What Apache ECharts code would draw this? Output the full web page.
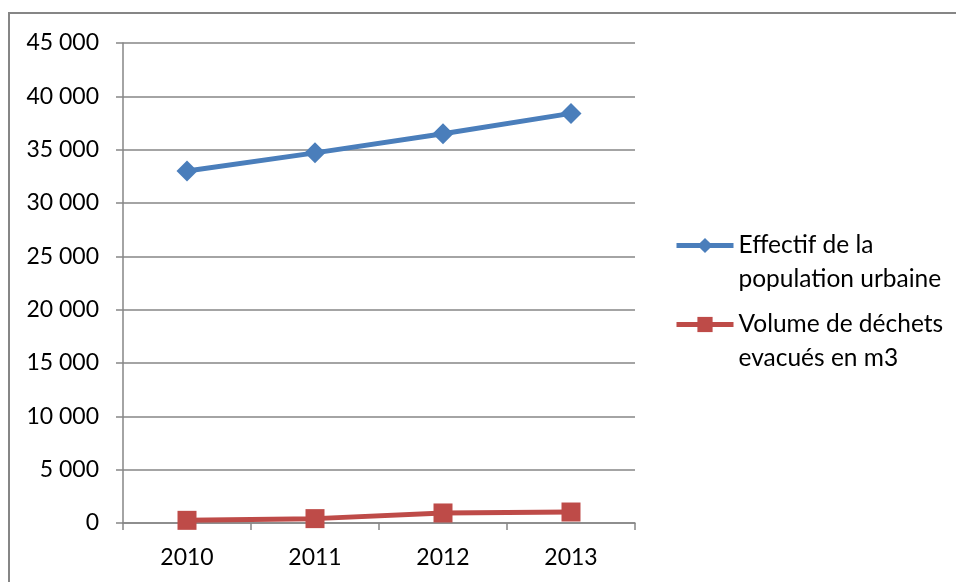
<!DOCTYPE html>
<html>
<head>
<meta charset="utf-8">
<script src="https://cdn.jsdelivr.net/npm/echarts@6/dist/echarts.min.js"></script>
<style>
html,body{margin:0;padding:0;background:#fff;}
#frame{position:absolute;left:8px;top:12px;width:960px;height:600px;border:2px solid #868686;box-sizing:border-box;}
#chart{position:absolute;left:0;top:0;width:956px;height:582px;}
</style>
</head>
<body>
<div id="frame"></div>
<div id="chart"></div>
<script>
const categories = ['2010', '2011', '2012', '2013'];
const population = [33000, 34700, 36500, 38400];
const dechets = [250, 410, 940, 1030];
const seriesNames = ['Effectif de la population urbaine', 'Volume de déchets evacués en m3'];
const legendLines = {
  'Effectif de la population urbaine': ['Effectif de la', 'population urbaine'],
  'Volume de déchets evacués en m3': ['Volume de déchets', 'evacués en m3']
};

const FONT = 'Lato';
const chart = echarts.init(document.getElementById('chart'), null, {renderer: 'canvas'});
function fmt(v){ return String(v).replace(/\B(?=(\d{3})+(?!\d))/g, ' '); }

chart.setOption({
  backgroundColor: 'transparent',
  animation: false,
  grid: {left: 123, right: 321, top: 43, bottom: 59, containLabel: false},
  legend: {
    orient: 'vertical',
    left: 674,
    top: 199,
    padding: 0,
    itemWidth: 57,
    itemHeight: 19,
    itemGap: -14,
    data: seriesNames,
    lineStyle: {width: 5},
    formatter: function (name) {
      const l = legendLines[name];
      return '{s| }\n{a|' + l[0] + '}\n{a|' + l[1] + '}';
    },
    textStyle: {
      fontFamily: FONT, fontSize: 24.5, color: '#000',
      rich: {
        s: {fontFamily: FONT, fontSize: 24.5, lineHeight: 34},
        a: {fontFamily: FONT, fontSize: 24.5, lineHeight: 34, color: '#000'}
      }
    }
  },
  xAxis: {
    type: 'category',
    data: categories,
    boundaryGap: true,
    axisLine: {lineStyle: {color: '#868686', width: 1.5}},
    axisTick: {show: true, length: 7, lineStyle: {color: '#868686', width: 1.5}},
    axisLabel: {fontFamily: FONT, fontSize: 23, color: '#000', margin: 23}
  },
  yAxis: {
    type: 'value',
    min: 0, max: 45000, interval: 5000,
    axisLine: {show: true, lineStyle: {color: '#868686', width: 1.5}},
    axisTick: {show: true, length: 7, lineStyle: {color: '#868686', width: 1.5}},
    splitLine: {lineStyle: {color: '#868686', width: 1.5}},
    axisLabel: {fontFamily: FONT, fontSize: 23, color: '#000', margin: 24, formatter: fmt}
  },
  series: [
    {
      name: seriesNames[0],
      type: 'line',
      data: population,
      symbol: 'diamond',
      symbolSize: 21,
      itemStyle: {color: '#4A7EBB'},
      lineStyle: {color: '#4A7EBB', width: 5}
    },
    {
      name: seriesNames[1],
      type: 'line',
      data: dechets,
      symbol: 'rect',
      symbolSize: 19,
      itemStyle: {color: '#BE4B48'},
      lineStyle: {color: '#BE4B48', width: 5}
    }
  ]
});
</script>
</body>
</html>
